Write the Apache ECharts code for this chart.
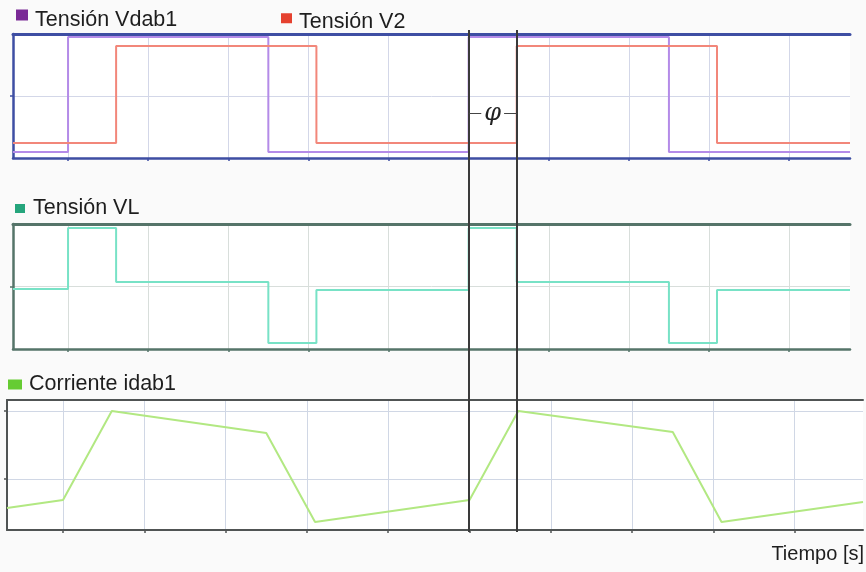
<!DOCTYPE html>
<html><head><meta charset="utf-8">
<script src="https://cdn.jsdelivr.net/npm/echarts@6/dist/echarts.min.js"></script>
<style>html,body{margin:0;padding:0;background:#fafafa}#c{width:866px;height:572px}</style>
</head><body><div id="c"></div><script>
// time axis (one grid division = 10 units)
const gridTicks = [0, 10, 20, 30, 40, 50, 60, 70, 80, 90];
const tStartTop = -6.87, tEndTop = 97.6;
const tStartBot = -6.89, tEndBot = 98.4;
// Tensión Vdab1
const tV1 = [-6.87, 0, 25, 50, 75, 97.6];
const vV1 = [-112, 118, -112, 118, -112, -112];
// Tensión V2
const tV2 = [-6.87, 6, 31, 56, 81, 97.6];
const vV2 = [-94, 100, -94, 100, -94, -94];
// Tensión VL
const tVL = [-6.87, 0, 6, 25, 31, 50, 56, 75, 81, 97.6];
const vVL = [-5, 117, 9, -113, -7, 117, 9, -113, -7, -7];
// Corriente idab1
const tI = [-6.89, 0, 6, 25, 31, 50, 56, 75, 81, 98.4];
const vI = [-4.26, -3.09, 10.0, 6.76, -6.32, -3.09, 10.0, 6.91, -6.32, -3.38];
const iTicks = [0, 10];
// phase shift markers
const phaseMarks = [50, 56];
const phiLevel = 0.834;
const phiLabel = 'φ';
const names = ['Tensión Vdab1', 'Tensión V2', 'Tensión VL', 'Corriente idab1'];
const timeTitle = 'Tiempo [s]';

const zip = (a, b) => a.map((x, i) => [x, b[i]]);
const chart = echarts.init(document.getElementById('c'));
const FONT = 'Liberation Sans, Arial, sans-serif';

function xAx(grid, min, max, color, width, grid_color, extra) {
  return Object.assign({
    type: 'value', gridIndex: grid, min: min, max: max, position: 'bottom',
    axisLine: {show: true, onZero: false, lineStyle: {color: color, width: width}},
    axisTick: {show: true, customValues: gridTicks, length: 3, inside: false, lineStyle: {color: color, width: 1.5}},
    axisLabel: {show: false},
    splitLine: {show: true, lineStyle: {color: grid_color, width: 1}}
  }, extra || {});
}
function xTop(grid, min, max, color, width) {
  return {type: 'value', gridIndex: grid, min: min, max: max, position: 'top',
    axisLine: {show: true, onZero: false, lineStyle: {color: color, width: width}},
    axisTick: {show: false}, axisLabel: {show: false}, splitLine: {show: false}};
}
function yAx(grid, min, max, ticks, color, width, grid_color) {
  return {type: 'value', gridIndex: grid, min: min, max: max,
    axisLine: {show: true, onZero: false, lineStyle: {color: color, width: width}},
    axisTick: {show: true, customValues: ticks, length: 3, lineStyle: {color: color, width: 1.5}},
    axisLabel: {show: false},
    splitLine: {show: true, lineStyle: {color: grid_color, width: 1}}};
}
// icon: square of w x sq at the top of an item of height h (text centred on h/2)
function leg(left, top, name, color, w, sq, h, textPad) {
  return {left: left, top: top, padding: 0,
    icon: 'path://M0,0L' + w + ',0L' + w + ',' + sq + 'L0,' + sq + 'ZM0,' + h,
    itemWidth: w, itemHeight: h, selectedMode: false,
    data: [{name: name, itemStyle: {color: color}}],
    textStyle: {fontSize: 21.5, color: '#1e1e1e', fontFamily: FONT, padding: [0, 0, 0, textPad]}};
}

const blue = '#3e4ea3', teal = '#557469', gray = '#505454';

chart.setOption({
  animation: false,
  backgroundColor: '#fafafa',
  grid: [
    {left: 13, top: 34, width: 837, height: 124, show: true, backgroundColor: '#fff', borderWidth: 0},
    {left: 13, top: 224, width: 837, height: 125, show: true, backgroundColor: '#fff', borderWidth: 0},
    {left: 7, top: 400, width: 856, height: 130, show: true, backgroundColor: '#fff', borderWidth: 0},
    {left: 13, top: 30, width: 837, height: 502, show: false}
  ],
  legend: [
    leg(16, 9, names[0], '#7a2a96', 12, 11, 21, 2),
    leg(281, 10.75, names[1], '#e5412f', 11, 10, 17, 2),
    leg(15, 197.5, names[2], '#25a57c', 10, 9, 9, 3),
    leg(8, 373.5, names[3], '#66cc33', 14, 10, 10, 2)
  ],
  xAxis: [
    xAx(0, tStartTop, tEndTop, blue, 2.5, '#d3d7e8'),
    xTop(0, tStartTop, tEndTop, blue, 3),
    xAx(1, tStartTop, tEndTop, teal, 2.5, '#d8dedb'),
    xTop(1, tStartTop, tEndTop, teal, 3),
    xAx(2, tStartBot, tEndBot, gray, 2, '#d0d7e5', {
      name: timeTitle, nameLocation: 'end', nameGap: 1,
      nameTextStyle: {fontSize: 20, color: '#1e1e1e', fontFamily: FONT, align: 'right', verticalAlign: 'top', padding: [14, 0, 0, 0]}
    }),
    xTop(2, tStartBot, tEndBot, gray, 2),
    {type: 'value', gridIndex: 3, min: tStartTop, max: tEndTop, show: false}
  ],
  yAxis: [
    yAx(0, -124, 124, [0], blue, 2.5, '#d3d7e8'),
    yAx(1, -125, 125, [0], teal, 2.5, '#d8dedb'),
    yAx(2, -7.5, 11.62, iTicks, gray, 2, '#d0d7e5'),
    {type: 'value', gridIndex: 3, min: 0, max: 1, show: false}
  ],
  series: [
    {name: names[0], type: 'line', xAxisIndex: 0, yAxisIndex: 0, step: 'end', showSymbol: false,
      data: zip(tV1, vV1), lineStyle: {color: '#b48be8', width: 2}, itemStyle: {color: '#7a2a96'}},
    {name: names[1], type: 'line', xAxisIndex: 0, yAxisIndex: 0, step: 'end', showSymbol: false,
      data: zip(tV2, vV2), lineStyle: {color: '#f2877a', width: 2}, itemStyle: {color: '#e5412f'}},
    {name: names[2], type: 'line', xAxisIndex: 2, yAxisIndex: 1, step: 'end', showSymbol: false,
      data: zip(tVL, vVL), lineStyle: {color: '#78e2c6', width: 2}, itemStyle: {color: '#25a57c'}},
    {name: names[3], type: 'line', xAxisIndex: 4, yAxisIndex: 2, showSymbol: false,
      data: zip(tI, vI), lineStyle: {color: '#b2e882', width: 2}, itemStyle: {color: '#66cc33'}},
    {type: 'line', xAxisIndex: 6, yAxisIndex: 3, data: [], z: 10, silent: true,
      markLine: {
        silent: true, symbol: 'none', animation: false,
        data: [
          {xAxis: phaseMarks[0], lineStyle: {color: '#3a3a3a', width: 2, type: 'solid'}, label: {show: false}},
          {xAxis: phaseMarks[1], lineStyle: {color: '#3a3a3a', width: 2, type: 'solid'}, label: {show: false}},
          [{coord: [phaseMarks[0], phiLevel], lineStyle: {color: '#444', width: 1, type: 'solid'},
            label: {show: true, position: 'middle', distance: 0, verticalAlign: 'middle', formatter: phiLabel,
              fontSize: 24, fontStyle: 'italic', fontFamily: 'DejaVu Serif, serif', color: '#222',
              backgroundColor: '#fff', padding: [0, 3]}},
           {coord: [phaseMarks[1], phiLevel]}]
        ]
      }}
  ]
});
</script></body></html>
